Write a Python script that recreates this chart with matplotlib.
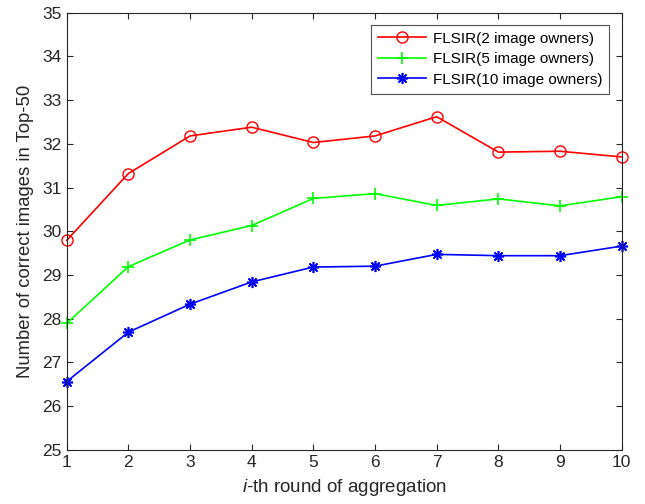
import numpy as np
import matplotlib
matplotlib.use('Agg')
import matplotlib.pyplot as plt

plt.rcParams['font.family'] = ['Liberation Sans', 'DejaVu Sans']
plt.rcParams['mathtext.fontset'] = 'custom'
plt.rcParams['mathtext.rm'] = 'Liberation Sans'
plt.rcParams['mathtext.it'] = 'Liberation Sans:italic'

# Data
rounds = [1, 2, 3, 4, 5, 6, 7, 8, 9, 10]
owners_2 = [29.79, 31.32, 32.18, 32.38, 32.03, 32.18, 32.62, 31.81, 31.83, 31.70]
owners_5 = [27.89, 29.19, 29.80, 30.13, 30.75, 30.86, 30.59, 30.74, 30.58, 30.79]
owners_10 = [26.56, 27.69, 28.33, 28.84, 29.18, 29.20, 29.47, 29.44, 29.44, 29.66]
labels = ['FLSIR(2 image owners)', 'FLSIR(5 image owners)', 'FLSIR(10 image owners)']

axis_color = '#262626'

fig = plt.figure(figsize=(6.45, 5.04), dpi=100)
ax = fig.add_axes([0.1034, 0.1077, 0.8605, 0.8671])

ax.plot(rounds, owners_2, color='#ff0000', marker='o', markersize=8, markerfacecolor='none',
        markeredgewidth=1.0, linewidth=1.2, label=labels[0], clip_on=False)
ax.plot(rounds, owners_5, color='#00ff00', marker='+', markersize=9,
        markeredgewidth=1.2, linewidth=1.2, label=labels[1], clip_on=False)
ax.plot(rounds, owners_10, color='#0000ff', marker=(8, 2, 0), markersize=8,
        markeredgewidth=1.2, linewidth=1.2, label=labels[2], clip_on=False)

ax.set_xlim(1, 10)
ax.set_ylim(25, 35)
ax.set_xticks(rounds)
ax.set_yticks(np.arange(25, 36, 1))

ax.tick_params(direction='in', top=True, right=True, length=4, width=0.8,
               colors=axis_color, labelsize=12.5, labelcolor=axis_color)
for spine in ax.spines.values():
    spine.set_color(axis_color)
    spine.set_linewidth(0.8)

ax.set_xlabel(r'$\mathit{i}$-th round of aggregation', fontsize=13.5, color=axis_color, labelpad=5)
ax.set_ylabel('Number of correct images in Top-50', fontsize=13.3, color=axis_color, labelpad=6)

leg = ax.legend(loc='upper right', bbox_to_anchor=(0.977, 0.972), borderaxespad=0, fontsize=11,
                frameon=True, fancybox=False, edgecolor=axis_color,
                borderpad=0.45, labelspacing=0.42, handlelength=3.2, handletextpad=0.4)
leg.get_frame().set_linewidth(0.8)

fig.savefig('out.png', dpi=100)
